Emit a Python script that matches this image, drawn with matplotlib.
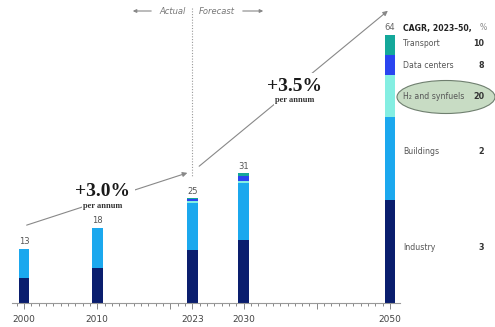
import matplotlib
matplotlib.use('Agg')
import matplotlib.pyplot as plt
from matplotlib.patches import Ellipse, FancyArrowPatch
import numpy as np

W, H = 495, 327

years = [2000, 2010, 2023, 2030, 2050]
totals = [13, 18, 25, 31, 64]
industry = [6.0, 8.4, 12.6, 15.0, 24.5]
buildings = [7.0, 9.6, 11.3, 13.7, 19.8]
h2_synfuels = [0.0, 0.0, 0.5, 0.4, 10.0]
data_centers = [0.0, 0.0, 0.4, 1.1, 4.8]
transport = [0.0, 0.0, 0.2, 0.8, 4.9]

segments = ['Industry', 'Buildings', 'H₂ and synfuels', 'Data centers', 'Transport']
cagr = ['3', '2', '20', '8', '10']
colors = ['#0a1e6e', '#1ba8ee', '#84eee2', '#2a45f0', '#14a89a']


def px(x, y):
    # pixel coords from top-left -> figure fraction
    return x / W, 1 - y / H


fig = plt.figure(figsize=(W / 100, H / 100), dpi=100)
ax = fig.add_axes([12 / W, 24 / H, 388 / W, 300 / H])

ppy = 7.32  # pixels per year
ax.set_xlim(2000 - 12 / ppy, 2000 + 376 / ppy)
ax.set_ylim(0, 300 / 4.19)

bottom = np.zeros(len(years))
for vals, c in zip([industry, buildings, h2_synfuels, data_centers, transport], colors):
    ax.bar(years, vals, bottom=bottom, width=1.5, color=c, linewidth=0)
    bottom += np.array(vals)

for yr, t in zip(years[:-1], totals[:-1]):
    ax.text(yr, t + 0.5, str(t), ha='center', va='bottom', fontsize=6, color='#555555')

for s in ['top', 'right', 'left']:
    ax.spines[s].set_visible(False)
ax.spines['bottom'].set_color('#999999')
ax.spines['bottom'].set_linewidth(0.8)
ax.set_yticks([])
ax.set_xticks([2000, 2010, 2020, 2023, 2030, 2040, 2050])
ax.set_xticklabels(['2000', '2010', '', '2023', '2030', '', '2050'])
ax.set_xticks(range(1999, 2051), minor=True)
ax.tick_params(axis='x', which='major', length=4.5, width=0.7, color='#888888',
               labelsize=6.5, labelcolor='#444444', pad=4)
ax.tick_params(axis='x', which='minor', length=2.5, width=0.7, color='#888888')

# actual / forecast divider
x0, _ = px(192, 0)
fig.add_artist(plt.Line2D([x0, x0], [px(0, 8)[1], px(0, 176)[1]], transform=fig.transFigure,
                          color='#999999', lw=0.8, ls=(0, (1, 1.5))))
fig.text(*px(186, 11), 'Actual', ha='right', va='center', fontsize=6, style='italic', color='#777777')
fig.text(*px(199, 11), 'Forecast', ha='left', va='center', fontsize=6, style='italic', color='#777777')
arr = dict(arrowstyle='-|>', color='#888888', lw=0.8, mutation_scale=5)
fig.add_artist(FancyArrowPatch(px(154, 11), px(130, 11), transform=fig.transFigure, **arr))
fig.add_artist(FancyArrowPatch(px(240, 11), px(266, 11), transform=fig.transFigure, **arr))

# growth arrows
arr2 = dict(arrowstyle='-|>', color='#888888', lw=0.8, mutation_scale=7)
fig.add_artist(FancyArrowPatch(px(24, 226), px(190, 172), transform=fig.transFigure, **arr2))
fig.add_artist(FancyArrowPatch(px(197, 168), px(390, 9), transform=fig.transFigure, **arr2))

for (cx, cy), big in [((103, 192), '+3.0%'), ((295, 86), '+3.5%')]:
    fig.text(*px(cx, cy), big, ha='center', va='center', fontsize=14, fontweight='bold',
             family='Liberation Serif', color='#1a1a1a',
             bbox=dict(facecolor='white', edgecolor='none', pad=3))
    fig.text(*px(cx, cy + 14), 'per annum', ha='center', va='center', fontsize=6, fontweight='bold',
             family='Liberation Serif', color='#333333',
             bbox=dict(facecolor='white', edgecolor='none', pad=1))

# legend with CAGR
fig.add_artist(Ellipse(px(446, 97), 98 / W, 33 / H, transform=fig.transFigure,
                       facecolor='#c8dcc4', edgecolor='#6f7f6f', lw=0.8))
fig.text(*px(390, 28), str(totals[-1]), ha='center', va='center', fontsize=6, color='#666666')
fig.text(*px(403, 28), 'CAGR, 2023–50,', ha='left', va='center', fontsize=5.6, fontweight='bold', color='#222222')
fig.text(*px(480, 28), '%', ha='left', va='center', fontsize=5.6, color='#888888')
label_y = [248, 152, 97, 65, 43]
for name, val, ly in zip(segments, cagr, label_y):
    fig.text(*px(403, ly), name, ha='left', va='center', fontsize=5.6, color='#555555')
    fig.text(*px(484, ly), val, ha='right', va='center', fontsize=5.8, fontweight='bold', color='#333333')

fig.savefig('out.png', dpi=100)
